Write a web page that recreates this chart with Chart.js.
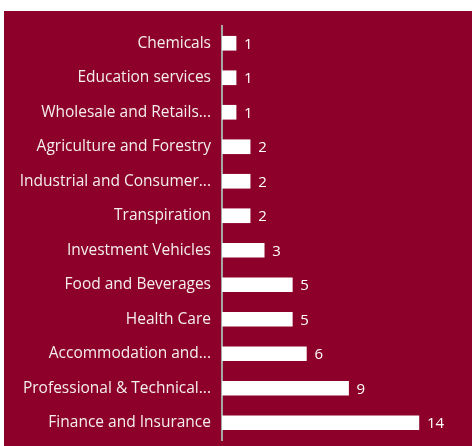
<!DOCTYPE html>
<html>
<head>
<meta charset="utf-8">
<script src="https://cdn.jsdelivr.net/npm/chart.js@4"></script>
<style>
  html, body { margin: 0; padding: 0; background: #ffffff; }
  #wrap { position: absolute; left: 4px; top: 11px; width: 468px; height: 435px; background: #8C0029; }
</style>
</head>
<body>
<div id="wrap"><canvas id="sectorChart" width="468" height="435"></canvas></div>
<script>
var sectors = ["Chemicals", "Education services", "Wholesale and Retails...", "Agriculture and Forestry",
    "Industrial and Consumer...", "Transpiration", "Investment Vehicles", "Food and Beverages",
    "Health Care", "Accommodation and...", "Professional & Technical...", "Finance and Insurance"];
var counts = [1, 1, 1, 2, 2, 2, 3, 5, 5, 6, 9, 14];

// draws the value to the right of each bar
var valueLabels = {
    id: "valueLabels",
    afterDatasetsDraw: function (chart) {
        var ctx = chart.ctx;
        var meta = chart.getDatasetMeta(0);
        ctx.save();
        ctx.fillStyle = "#ffffff";
        ctx.font = "15px 'Open Sans'";
        ctx.textAlign = "left";
        ctx.textBaseline = "middle";
        meta.data.forEach(function (bar, i) {
            ctx.fillText(counts[i], bar.x + 8, bar.y + 1);
        });
        ctx.restore();
    }
};

new Chart("sectorChart", {
    type: "bar",
    data: {
        labels: sectors,
        datasets: [{
            data: counts,
            backgroundColor: "#ffffff",
            borderWidth: 0,
            barThickness: 14
        }]
    },
    options: {
        indexAxis: "y",
        responsive: false,
        animation: false,
        layout: { padding: { top: 15, bottom: 6, right: 25, left: 0 } },
        plugins: {
            legend: { display: false },
            tooltip: { enabled: false }
        },
        scales: {
            x: {
                display: false,
                min: 0,
                max: 16
            },
            y: {
                grid: { display: false, drawTicks: false },
                border: { display: true, color: "#a6a6a6", width: 2 },
                ticks: {
                    color: "#f5eef0",
                    font: { family: "'Open Sans'", size: 15.5 },
                    padding: 11,
                    autoSkip: false
                },
                afterFit: function (axis) {
                    axis.width = 218;
                    axis.paddingTop = 0;
                    axis.paddingBottom = 0;
                }
            }
        }
    },
    plugins: [valueLabels]
});
</script>
</body>
</html>
